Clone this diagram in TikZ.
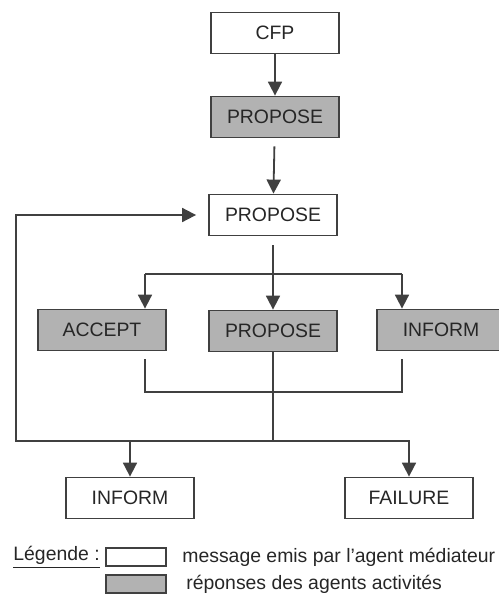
\documentclass[tikz,border=0pt]{standalone}
\usepackage{fontspec}
\setmainfont{Liberation Sans}
\usetikzlibrary{arrows.meta}
\begin{document}
\begin{tikzpicture}[x=0.5pt,y=-0.5pt,
    msg/.style={draw=black!75,line width=0.9pt,fill=white,minimum width=64pt,minimum height=20.5pt,inner sep=0pt,
                font=\fontsize{9.7}{11}\selectfont,text=black!85},
    rep/.style={msg,fill=black!30},
    arr/.style={draw=black!75,line width=0.9pt,-{Triangle[length=7pt,width=7pt]}},
    lin/.style={draw=black!75,line width=0.9pt}]
\useasboundingbox (0,0) rectangle (498,594);
\node[msg] (cfp) at (275,33) {CFP};
\node[rep] (prop1) at (275,117) {PROPOSE};
\node[msg] (prop2) at (273,215) {PROPOSE};
\node[rep] (accept) at (102,330) {ACCEPT};
\node[rep] (prop3) at (273,331) {PROPOSE};
\node[rep] (inform1) at (441,330) {INFORM};
\node[msg] (inform2) at (130,498) {INFORM};
\node[msg] (failure) at (409,498) {FAILURE};
\draw[arr] (cfp) -- (prop1);
\draw[arr,shorten <=4pt] (prop1) -- (prop2);
\draw[arr,shorten <=4.5pt] (prop2) -- (prop3);
\coordinate (fl) at (145,274);
\coordinate (fr) at (402,274);
\draw[lin] (fl) -- (fr);
\draw[arr] (fl) -- (fl |- accept.north);
\draw[arr] (fr) -- (fr |- inform1.north);
\coordinate (jl) at (145,392);
\coordinate (jr) at (402,392);
\draw[lin,shorten <=4pt,shorten >=4pt] (jl |- accept.south) -- (jl) -- (jr) -- (jr |- inform1.south);
\coordinate (merge) at (273,441);
\coordinate (loop) at (16,441);
\draw[lin] (prop3) -- (merge);
\draw[arr,shorten >=6pt] (merge) -- (loop) |- (prop2.west);
\draw[arr] (merge) -| (inform2.north);
\draw[arr] (merge) -| (failure.north);
\node[anchor=west,inner sep=0pt,font=\fontsize{9.7}{11}\selectfont,text=black!85] (legend) at (13,557) {\underline{Légende :}};
\node[msg,minimum width=30pt,minimum height=9pt] (keymsg) at (136,557) {};
\node[rep,minimum width=30pt,minimum height=9pt] (keyrep) at (136,584) {};
\node[anchor=west,inner sep=0pt,font=\fontsize{9.7}{11}\selectfont,text=black!85] (txtmsg) at (182,557) {message emis par l'agent médiateur};
\node[anchor=west,inner sep=0pt,font=\fontsize{9.7}{11}\selectfont,text=black!85] (txtrep) at (186,584) {réponses des agents activités};
\end{tikzpicture}
\end{document}
